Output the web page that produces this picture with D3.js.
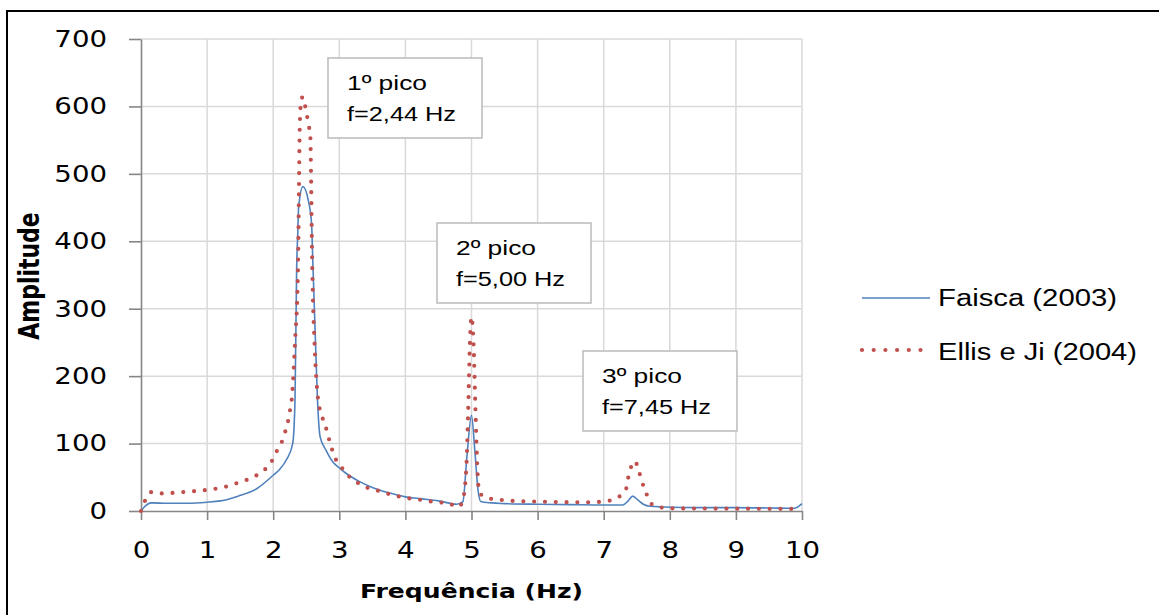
<!DOCTYPE html>
<html><head><meta charset="utf-8">
<script src="https://cdn.jsdelivr.net/npm/d3@7"></script>
<style>body{margin:0;background:#fff} svg{display:block}</style>
</head><body>
<svg id="chart" width="1159" height="615"></svg>
<script>
// ---------- data ----------
const xTicks = [0,1,2,3,4,5,6,7,8,9,10];
const yTicks = [0,100,200,300,400,500,600,700];
const seriesNames = ["Faisca (2003)", "Ellis e Ji (2004)"];

const faiscaFreq = [0,0.05,0.16,0.4,0.7,1.0,1.2,1.47,1.75,2.0,2.1,2.2,2.295,2.33,2.355,2.37,2.385,2.45,2.53,2.58,2.60,2.64,2.67,2.71,2.8,2.9,3.0,3.1,3.3,3.5,3.75,4.0,4.25,4.5,4.78,4.87,4.93,5.0,5.05,5.1,5.14,5.3,5.5,6.0,6.5,7.0,7.29,7.37,7.44,7.52,7.6,7.7,7.9,8.5,9.0,9.5,9.88,10.0];
const faiscaAmp  = [0,6,12,11.5,11.5,13,15,22,33,53,62,76,100,165,362,407,451,481,461,427,368,250,165,110,90,73,64,56,44,35,27,21,18,15,10,14,80,142,90,30,14,12,11,10,9.5,9,9,15,22,16,10,7,6,5,5,4.5,4,11];

const ellisFreq = [0,0.06,0.16,0.34,0.51,0.7,0.88,1.05,1.24,1.41,1.57,1.75,1.88,1.98,2.05,2.12,2.18,2.22,2.25,2.28,2.33,2.375,2.39,2.40,2.415,2.445,2.48,2.51,2.54,2.56,2.575,2.585,2.60,2.625,2.65,2.68,2.74,2.8,2.86,2.94,3.04,3.14,3.26,3.41,3.59,3.76,3.93,4.1,4.28,4.46,4.63,4.8,4.86,4.92,4.95,4.98,5.0,5.03,5.06,5.09,5.12,5.25,5.4,5.6,6.0,6.5,6.8,7.06,7.23,7.34,7.37,7.41,7.47,7.53,7.58,7.64,7.69,7.84,8.0,9.0,10.0];
const ellisAmp  = [0,15,28,26,27,28.6,30,32,35,40,45,53,62,74,88,100,117,131,147,165,250,360,480,560,600,614,602,587,570,560,480,400,320,250,200,165,140,123,101,78,64,52,43,35,30,25,21,18,16,13,12,6,13,60,150,260,288,250,150,60,27,19,17,15,14,13,13,15,21,33,49,64,74,60,43,28,13,6,4,3.5,3];

const peakTitles = ["1º pico","2º pico","3º pico"];
const peakFreqs  = ["f=2,44 Hz","f=5,00 Hz","f=7,45 Hz"];

// ---------- layout ----------
const L = 141, R = 802, T = 39, B = 511;
const boxPos = [[328,58],[437,223],[583,351]];
const boxW = 154, boxH = 80;
const sansFont = "'Liberation Sans', Arial, sans-serif";
const verdanaLike = "'DejaVu Sans', Verdana, sans-serif";

const svg = d3.select("#chart");
const x = d3.scaleLinear().domain([0,10]).range([L,R]);
const y = d3.scaleLinear().domain([0,700]).range([B,T]);

// outer border
svg.append("rect").attr("x",7).attr("y",11).attr("width",1160).attr("height",620)
  .attr("fill","#fff").attr("stroke","#000").attr("stroke-width",2);

// grid
const grid = svg.append("g").attr("stroke","#d9d9d9").attr("stroke-width",1.5);
grid.selectAll(".gx").data(xTicks.filter(d=>d>0)).join("line")
  .attr("x1",d=>x(d)).attr("x2",d=>x(d)).attr("y1",y(0)).attr("y2",y(700));
grid.selectAll(".gy").data(yTicks.filter(d=>d>0)).join("line")
  .attr("y1",d=>y(d)).attr("y2",d=>y(d)).attr("x1",x(0)).attr("x2",x(10));

const tickK = 1.2;
const ya = svg.append("g").attr("transform",`translate(${L},0)`)
  .call(d3.axisLeft(y).tickValues(yTicks).tickSize(12).tickSizeOuter(0).tickPadding(22).tickFormat(d3.format("d")));
const xa = svg.append("g").attr("transform",`translate(0,${B})`)
  .call(d3.axisBottom(x).tickValues(xTicks).tickSize(9).tickSizeOuter(0).tickPadding(22).tickFormat(d3.format("d")));
[ya,xa].forEach(a=>{
  a.select(".domain").attr("stroke","#868686").attr("stroke-width",1.6);
  a.selectAll(".tick line").attr("stroke","#868686").attr("stroke-width",1.6);
  a.selectAll(".tick text").attr("font-family",verdanaLike)
    .attr("font-size",23).attr("fill","#000");
});
ya.selectAll(".tick text").attr("x",-34/tickK).attr("transform",`scale(${tickK},1)`);
xa.selectAll(".tick text").attr("transform",`scale(${tickK},1)`);

// series
const line = d3.line().x(d=>x(d[0])).y(d=>y(d[1])).curve(d3.curveMonotoneX);
const faisca = faiscaFreq.map((f,i)=>[f,faiscaAmp[i]]);
const ellis = ellisFreq.map((f,i)=>[f,ellisAmp[i]]);
svg.append("path").datum(faisca).attr("d",line).attr("fill","none")
  .attr("stroke","#4f81bd").attr("stroke-width",1.6);
svg.append("path").datum(ellis).attr("d",line).attr("fill","none")
  .attr("stroke","#c0504d").attr("stroke-width",4.2).attr("stroke-linecap","round")
  .attr("stroke-dasharray","0 10.8");

// annotation boxes
const ann = svg.append("g");
peakTitles.forEach((t,i)=>{
  const [bx,by] = boxPos[i];
  ann.append("rect").attr("x",bx).attr("y",by).attr("width",boxW).attr("height",boxH)
    .attr("fill","#fff").attr("stroke","#bfbfbf").attr("stroke-width",1.6);
  ann.append("text").attr("x",bx+19).attr("y",by+32).text(t)
    .attr("font-family",sansFont).attr("font-size",20).attr("fill","#000")
    .attr("textLength",80).attr("lengthAdjust","spacingAndGlyphs");
  ann.append("text").attr("x",bx+19).attr("y",by+63).text(peakFreqs[i])
    .attr("font-family",sansFont).attr("font-size",20).attr("fill","#000")
    .attr("textLength",109).attr("lengthAdjust","spacingAndGlyphs");
});

// axis titles
svg.append("text").attr("x",360).attr("y",598).text("Frequência (Hz)")
  .attr("font-family",verdanaLike).attr("font-weight","bold")
  .attr("font-size",19).attr("fill","#000")
  .attr("textLength",223).attr("lengthAdjust","spacingAndGlyphs");
svg.append("text").attr("transform","translate(39,276) scale(1.3,1) rotate(-90)")
  .attr("text-anchor","middle").text("Amplitude")
  .attr("font-family",verdanaLike).attr("font-weight","bold")
  .attr("font-size",22).attr("fill","#000");

// legend
const lg = svg.append("g");
lg.append("line").attr("x1",862).attr("x2",930).attr("y1",298).attr("y2",298)
  .attr("stroke","#4f81bd").attr("stroke-width",1.6);
lg.append("line").attr("x1",862).attr("x2",922).attr("y1",350).attr("y2",350)
  .attr("stroke","#c0504d").attr("stroke-width",4.2).attr("stroke-linecap","round")
  .attr("stroke-dasharray","0 11.7");
const legW = [179,199];
seriesNames.forEach((n,i)=>{
  lg.append("text").attr("x",938).attr("y",[306,360][i]).text(n)
    .attr("font-family",sansFont).attr("font-size",23).attr("fill","#000")
    .attr("textLength",legW[i]).attr("lengthAdjust","spacingAndGlyphs");
});
</script>
</body></html>
